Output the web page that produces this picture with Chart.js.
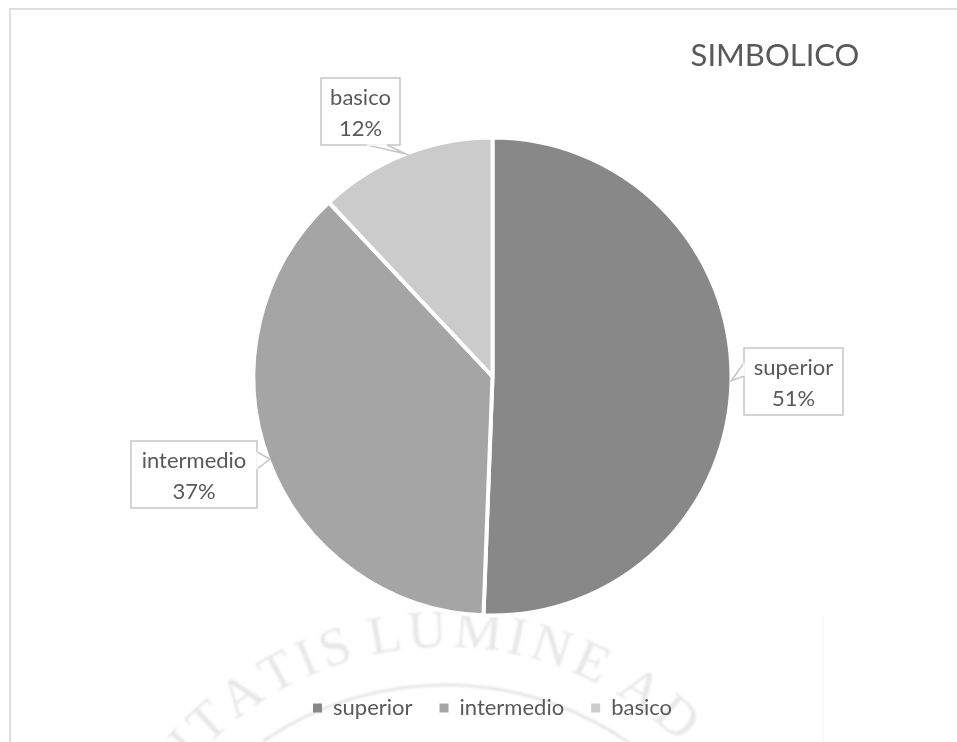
<!DOCTYPE html>
<html>
<head>
<meta charset="utf-8">
<style>
  html, body { margin: 0; padding: 0; background: #fff; overflow: hidden; }
  canvas { display: block; }
</style>
<script src="https://cdn.jsdelivr.net/npm/chart.js@4"></script>
</head>
<body>
<canvas id="myChart" width="957" height="742"></canvas>
<script>
const chartTitle = "SIMBOLICO";
const categories = ["superior", "intermedio", "basico"];
const values = [50.6, 37.4, 12.0];
const percentLabels = ["51%", "37%", "12%"];
const sliceColors = ["#888888", "#a5a5a5", "#cbcbcb"];
const watermarkText = "ITATIS LUMINE AD";

const textColor = "#595959";
const fontName = "Lato, 'Open Sans', sans-serif";

// callout boxes, same order as categories: box rect then the three tail points
const callouts = [
  { x: 744, y: 348, w: 99, h: 67, tail: [[744, 363], [731, 381], [744, 376]] },
  { x: 131, y: 441, w: 126, h: 67, tail: [[257, 452], [270, 459], [257, 469]] },
  { x: 321, y: 78, w: 79, h: 67, tail: [[367, 145], [406, 154], [387, 145]] }
];

// faint seal behind the chart, plus the frame lines
const backdrop = {
  id: "backdrop",
  beforeDraw(chart) {
    const ctx = chart.ctx;
    ctx.save();

    ctx.strokeStyle = "#dedede";
    ctx.lineWidth = 2;
    ctx.beginPath();
    ctx.moveTo(957, 9);
    ctx.lineTo(10, 9);
    ctx.lineTo(10, 742);
    ctx.stroke();

    ctx.strokeStyle = "#f7f7f7";
    ctx.lineWidth = 1;
    ctx.beginPath();
    ctx.moveTo(823.5, 615);
    ctx.lineTo(823.5, 742);
    ctx.stroke();

    const cx = 445, cy = 982, r = 335;
    ctx.filter = "blur(0.8px)";
    ctx.fillStyle = "#e8e8e8";
    ctx.font = "54px 'Liberation Serif', serif";
    ctx.textAlign = "center";
    ctx.textBaseline = "alphabetic";
    const spacing = 5;
    const widths = [...watermarkText].map(c => c === " " ? 12 : ctx.measureText(c).width + spacing);
    const total = widths.reduce((a, b) => a + b, 0);
    let angle = -total / 2 / r - 0.04;
    [...watermarkText].forEach((c, i) => {
      const a = angle + widths[i] / 2 / r;
      ctx.save();
      ctx.translate(cx + Math.sin(a) * r, cy - Math.cos(a) * r);
      ctx.rotate(a);
      ctx.fillText(c, 0, 0);
      ctx.restore();
      angle += widths[i] / r;
    });

    ctx.strokeStyle = "#e6e6e6";
    ctx.lineWidth = 3;
    ctx.beginPath();
    ctx.arc(445, 1007, 322, -Math.PI / 2 - 0.6, -Math.PI / 2 + 0.65);
    ctx.stroke();
    ctx.restore();
  }
};

// title and the callout labels
const annotations = {
  id: "annotations",
  afterDraw(chart) {
    const ctx = chart.ctx;
    ctx.save();
    ctx.fillStyle = textColor;
    ctx.textAlign = "center";
    ctx.textBaseline = "middle";
    ctx.font = "31px " + fontName;
    ctx.fillText(chartTitle, 775, 56);

    callouts.forEach((c, i) => {
      ctx.strokeStyle = "#c6c6c6";
      ctx.lineWidth = 1.5;
      ctx.fillStyle = "#ffffff";
      ctx.beginPath();
      ctx.rect(c.x, c.y, c.w, c.h);
      ctx.fill();
      ctx.stroke();
      ctx.beginPath();
      ctx.moveTo(c.tail[0][0], c.tail[0][1]);
      ctx.lineTo(c.tail[1][0], c.tail[1][1]);
      ctx.lineTo(c.tail[2][0], c.tail[2][1]);
      ctx.fill();
      ctx.stroke();
      // hide the box edge under the tail
      ctx.strokeStyle = "#ffffff";
      ctx.beginPath();
      ctx.moveTo(c.tail[0][0], c.tail[0][1]);
      ctx.lineTo(c.tail[2][0], c.tail[2][1]);
      ctx.stroke();

      ctx.fillStyle = textColor;
      ctx.font = "22px " + fontName;
      const mid = c.x + c.w / 2;
      ctx.fillText(categories[i], mid, c.y + 20);
      ctx.fillText(percentLabels[i], mid, c.y + 51);
    });
    ctx.restore();
  }
};

new Chart(document.getElementById("myChart"), {
  type: "pie",
  data: {
    labels: categories,
    datasets: [{
      data: values,
      backgroundColor: sliceColors,
      borderColor: "#ffffff",
      borderWidth: 4
    }]
  },
  options: {
    responsive: false,
    animation: false,
    radius: 239,
    layout: { padding: { top: 83, left: 28, bottom: 13 } },
    plugins: {
      tooltip: { enabled: false },
      title: { display: false },
      legend: {
        position: "bottom",
        labels: {
          boxWidth: 9,
          boxHeight: 9,
          padding: 27,
          color: textColor,
          font: { family: fontName, size: 22 },
          generateLabels: () => categories.map((text, i) => ({
            text,
            fillStyle: sliceColors[i],
            strokeStyle: sliceColors[i],
            lineWidth: 0,
            fontColor: textColor,
            hidden: false,
            index: i
          }))
        }
      }
    }
  },
  plugins: [backdrop, annotations]
});
</script>
</body>
</html>
